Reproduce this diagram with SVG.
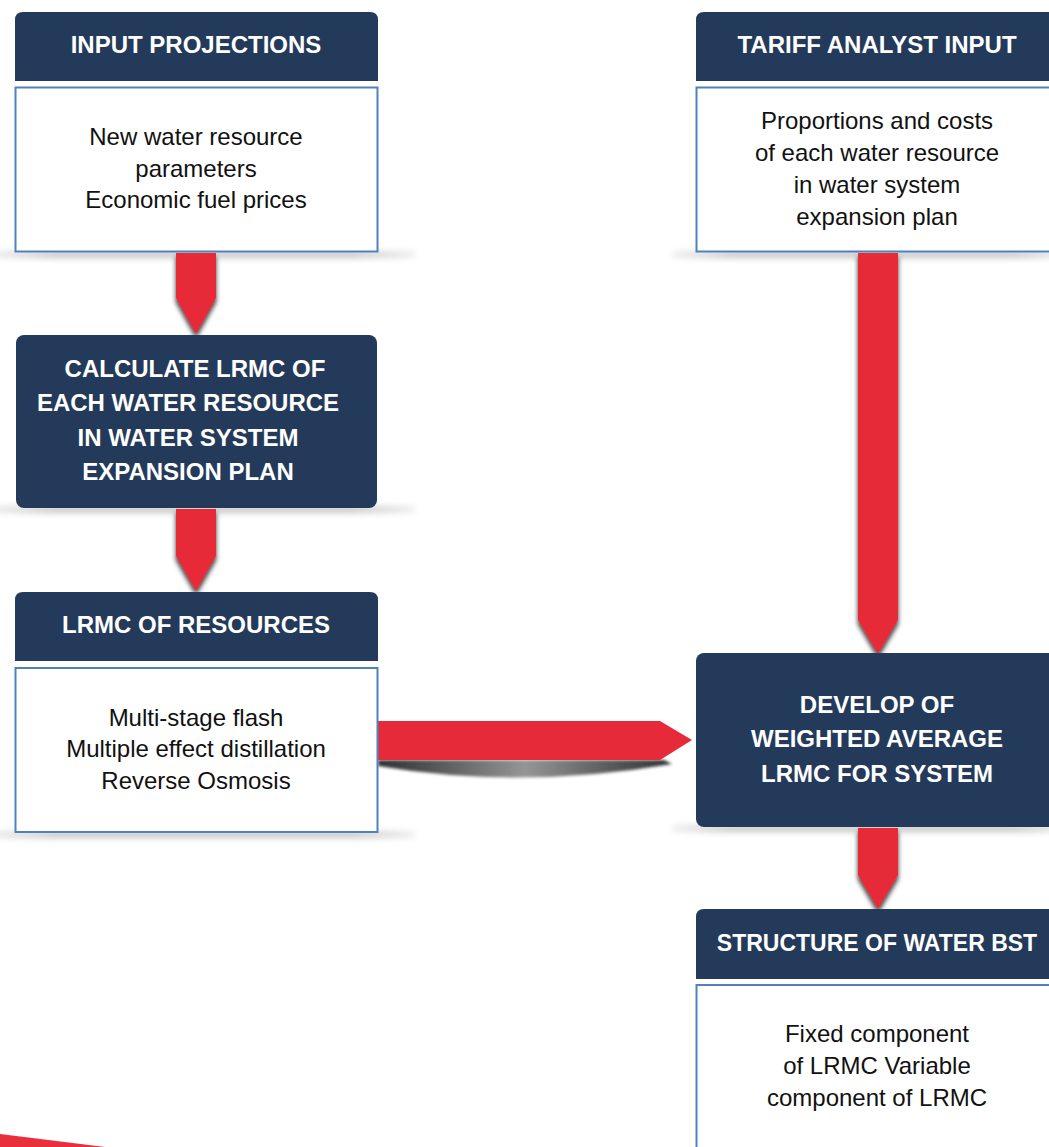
<svg xmlns="http://www.w3.org/2000/svg" width="1049" height="1147" viewBox="0 0 1049 1147">
  <defs>
    <style>
      .hdr { fill: #243a5a; }
      .body { fill: #ffffff; stroke: #4f81bd; stroke-width: 2; }
      .arrow { fill: #e62a39; filter: url(#ashadow); }
      .ht { font-family: "Liberation Sans", Arial, sans-serif; font-weight: bold; font-size: 24px; fill: #ffffff; text-anchor: middle; }
      .bt { font-family: "Liberation Sans", Arial, sans-serif; font-size: 24px; fill: #111111; text-anchor: middle; }
      .gshadow { fill: url(#gsh); opacity: 0.22; filter: url(#blur3); }
    </style>
    <filter id="ashadow" x="-50%" y="-20%" width="200%" height="140%">
      <feDropShadow dx="0" dy="4" stdDeviation="2.5" flood-color="#000" flood-opacity="0.8"/>
    </filter>
    <filter id="blur3" x="-10%" y="-200%" width="120%" height="500%">
      <feGaussianBlur stdDeviation="3"/>
    </filter>
    <filter id="blur2" x="-10%" y="-100%" width="120%" height="300%">
      <feGaussianBlur stdDeviation="1.5"/>
    </filter>
    <linearGradient id="hsh" x1="0" y1="0" x2="1" y2="0">
      <stop offset="0" stop-color="#1a1a1a"/>
      <stop offset="0.5" stop-color="#8a8a8a"/>
      <stop offset="1" stop-color="#1a1a1a"/>
    </linearGradient>
    <linearGradient id="gsh" x1="0" y1="0" x2="1" y2="0">
      <stop offset="0" stop-color="#000" stop-opacity="0.3"/>
      <stop offset="0.15" stop-color="#000" stop-opacity="1"/>
      <stop offset="0.85" stop-color="#000" stop-opacity="1"/>
      <stop offset="1" stop-color="#000" stop-opacity="0.3"/>
    </linearGradient>
  </defs>

  <!-- soft ground shadows under boxes -->
  <g id="shadows">
    <rect class="gshadow" x="-10" y="251" width="425" height="7"/>
    <rect class="gshadow" x="-10" y="506" width="425" height="7"/>
    <rect class="gshadow" x="-10" y="831" width="425" height="7"/>
    <rect class="gshadow" x="672" y="251" width="400" height="7"/>
    <rect class="gshadow" x="672" y="825" width="400" height="7"/>
  </g>

  <g id="connectors">
    <path d="M378,760 H664 L672,764 Q520,790 378,766 Z" fill="url(#hsh)" filter="url(#blur2)" opacity="0.9"/>
    <path class="arrow" d="M176,253 H216 V298 L196,334 L176,298 Z"/>
    <path class="arrow" d="M176,509 H216 V556 L196,591 L176,556 Z"/>
    <path class="arrow" d="M858,253 H898 V620 L878,654 L858,620 Z"/>
    <path class="arrow" d="M858,828 H898 V875 L878,909 L858,875 Z"/>
    <path fill="#e62a39" d="M378,721 H660 L692,740 L660,760 H378 Z"/>
  </g>

  <g id="input-projections">
    <path class="hdr" d="M15,81 V20 Q15,12 23,12 H370 Q378,12 378,20 V81 Z"/>
    <text class="ht" x="196" y="53">INPUT PROJECTIONS</text>
    <rect class="body" x="15.5" y="87.5" width="362" height="164"/>
    <text class="bt" x="196" y="145">New water resource</text>
    <text class="bt" x="196" y="177">parameters</text>
    <text class="bt" x="196" y="208">Economic fuel prices</text>
  </g>

  <g id="calculate-lrmc">
    <rect class="hdr" x="16" y="335" width="361" height="173" rx="8" ry="8"/>
    <text class="ht" x="195" y="377">CALCULATE LRMC OF</text>
    <text class="ht" x="188" y="411">EACH WATER RESOURCE</text>
    <text class="ht" x="188" y="446">IN WATER SYSTEM</text>
    <text class="ht" x="188" y="480">EXPANSION PLAN</text>
  </g>

  <g id="lrmc-of-resources">
    <path class="hdr" d="M15,661 V600 Q15,592 23,592 H370 Q378,592 378,600 V661 Z"/>
    <text class="ht" x="196" y="633">LRMC OF RESOURCES</text>
    <rect class="body" x="15.5" y="668" width="362" height="164"/>
    <text class="bt" x="196" y="726">Multi-stage flash</text>
    <text class="bt" x="196" y="757">Multiple effect distillation</text>
    <text class="bt" x="196" y="789">Reverse Osmosis</text>
  </g>

  <g id="tariff-analyst-input">
    <path class="hdr" d="M696,81 V20 Q696,12 704,12 H1051 Q1059,12 1059,20 V81 Z"/>
    <text class="ht" x="877" y="53">TARIFF ANALYST INPUT</text>
    <rect class="body" x="696.5" y="87.5" width="362" height="164"/>
    <text class="bt" x="877" y="129">Proportions and costs</text>
    <text class="bt" x="877" y="161">of each water resource</text>
    <text class="bt" x="877" y="193">in water system</text>
    <text class="bt" x="877" y="225">expansion plan</text>
  </g>

  <g id="develop-weighted-average">
    <rect class="hdr" x="696" y="653" width="362" height="174" rx="8" ry="8"/>
    <text class="ht" x="877" y="713">DEVELOP OF</text>
    <text class="ht" x="877" y="747">WEIGHTED AVERAGE</text>
    <text class="ht" x="877" y="782">LRMC FOR SYSTEM</text>
  </g>

  <g id="structure-of-water-bst">
    <path class="hdr" d="M696,979 V917 Q696,909 704,909 H1051 Q1059,909 1059,917 V979 Z"/>
    <text class="ht" x="877" y="951" style="font-size:23px">STRUCTURE OF WATER BST</text>
    <rect class="body" x="696.5" y="985" width="362" height="180"/>
    <text class="bt" x="877" y="1042">Fixed component</text>
    <text class="bt" x="877" y="1074">of LRMC Variable</text>
    <text class="bt" x="877" y="1106">component of LRMC</text>
  </g>

  <polygon points="0,1134 105,1147 0,1147" fill="#ea2f3c"/>
</svg>
